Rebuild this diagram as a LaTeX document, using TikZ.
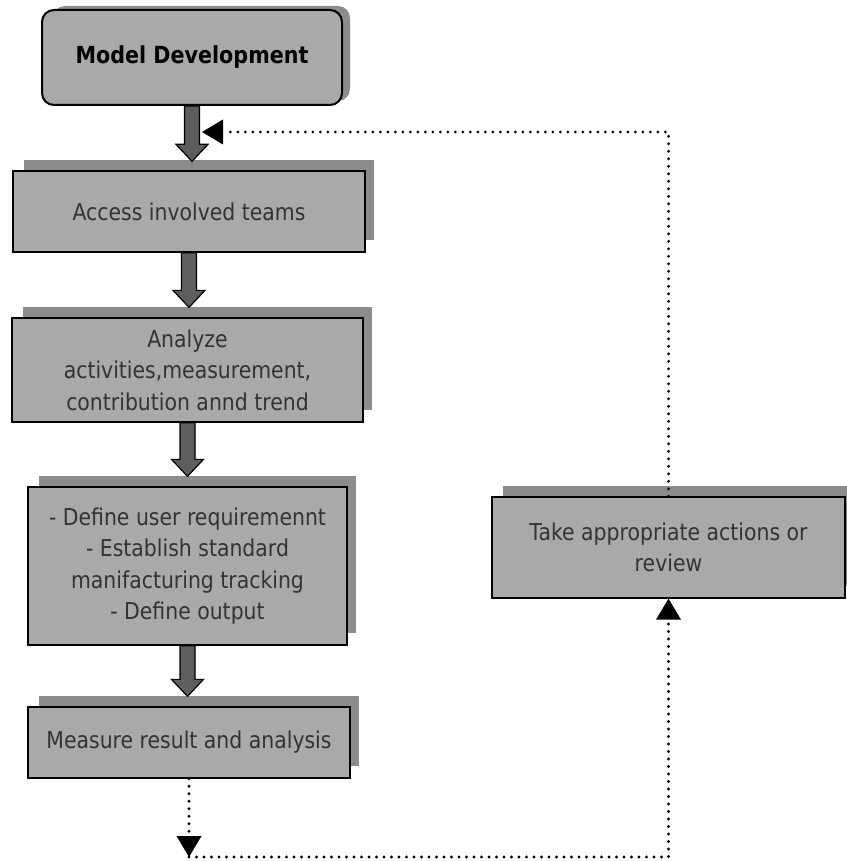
\documentclass[tikz,border=0pt]{standalone}
\usepackage{fontspec}
\setmainfont{DejaVu Sans}[FakeStretch=0.88]
\usetikzlibrary{calc,arrows.meta,backgrounds}
\definecolor{boxfill}{HTML}{A9A9A9}
\definecolor{shadowfill}{HTML}{8C8C8C}
\definecolor{arrowfill}{HTML}{5E5E5E}
\definecolor{txt}{HTML}{333333}
\tikzset{
  stepbox/.style={draw=black, line width=1.3pt, fill=boxfill, text=txt,
    font=\fontsize{23.2}{31.5}\selectfont, align=center, inner sep=0pt},
  shadowrect/.style={fill=shadowfill},
  blockarrow/.style={draw=black, line width=1.2pt, fill=arrowfill, line join=miter},
  dotline/.style={line width=3.2pt, dash pattern=on 0pt off 7.5pt, line cap=round, draw=black},
  fbtip/.style={-{Triangle[width=25pt,length=21pt,line width=0pt]}}
}
\newcommand{\blockarr}[2]{%
  \path (#1) coordinate (ba-s) (#1 |- #2) coordinate (ba-t);
  \draw[blockarrow] ($(ba-s)+(-7.5,0)$) -- ($(ba-t)+(-7.5,-17)$) -- ($(ba-t)+(-16,-17)$)
    -- (ba-t) -- ($(ba-t)+(16,-17)$) -- ($(ba-t)+(7.5,-17)$) -- ($(ba-s)+(7.5,0)$) -- cycle;}
\begin{document}
\begin{tikzpicture}[x=1pt,y=-1pt]
\useasboundingbox (0,0) rectangle (846,861);
% boxes
\node[stepbox, rounded corners=12pt, line width=2pt, minimum width=300pt, minimum height=95pt,
      text=black, font=\fontsize{23.5}{27}\selectfont\bfseries] (md) at (192,57.5) {Model Development};
\node[stepbox, minimum width=352pt, minimum height=81pt] (access) at (189,211.5) {Access involved teams};
\node[stepbox, minimum width=351pt, minimum height=104pt] (analyze) at (187.5,370) {Analyze\\activities,measurement,\\contribution annd trend};
\node[stepbox, minimum width=319pt, minimum height=158pt] (define) at (187.5,566) {- Define user requiremennt\\- Establish standard\\manifacturing tracking\\- Define output};
\node[stepbox, minimum width=322pt, minimum height=71pt] (measure) at (189,742.5) {Measure result and analysis};
\node[stepbox, minimum width=353pt, minimum height=101pt] (take) at (668.5,547.5) {Take appropriate actions or\\review};
% shadows
\begin{pgfonlayer}{background}
  \fill[shadowfill, rounded corners=12pt] ($(md.north west)+(12,-3)$) rectangle ($(md.south east)+(7,-5)$);
  \foreach \b in {access,analyze,define,measure,take}{
    \fill[shadowfill] ($(\b.north west)+(12,-10)$) rectangle ($(\b.south east)+(8,-13)$);
  }
\end{pgfonlayer}
% targets for block arrows (tops of the shadows)
\coordinate (access-top) at ($(access.north)+(0,-9)$);
\coordinate (analyze-top) at ($(analyze.north)+(0,-10)$);
\coordinate (define-top) at ($(define.north)+(0,-10)$);
\coordinate (measure-top) at ($(measure.north)+(0,-10)$);
\blockarr{md.south}{access-top}
\blockarr{access.south}{analyze-top}
\blockarr{analyze.south}{define-top}
\blockarr{define.south}{measure-top}
% feedback loop
\coordinate (c1) at (189,857);
\coordinate (c2) at (668.5,857);
\coordinate (c3) at (668.5,132);
\coordinate (fbend) at (202,132);
\draw[dotline, fbtip] (measure.south) -- (c1);
\draw[dotline, fbtip] (c1) -- (c2) -- (take.south);
\draw[dotline, fbtip] (take.north) -- (c3) -- (fbend);
\end{tikzpicture}
\end{document}
